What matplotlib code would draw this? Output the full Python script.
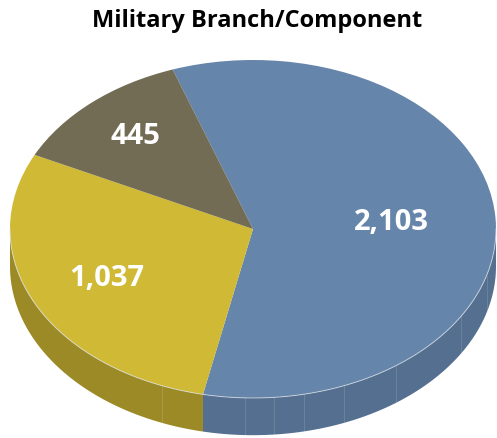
import numpy as np
import matplotlib
matplotlib.use("Agg")
import matplotlib.pyplot as plt

# data
branches = ["Blue", "Yellow", "Olive"]
counts = [2103, 1037, 445]
labels = ["2,103", "1,037", "445"]
top_colors = ["#6685AA", "#D0B935", "#736C55"]
side_colors = ["#546F8F", "#9C8A26", "#5A5442"]
label_radius = [0.57, 0.67, 0.73]

start_angle = 109.3
depth = 0.22

plt.rcParams['font.family'] = ['Open Sans', 'DejaVu Sans']

fig = plt.figure(figsize=(4.97, 4.38), dpi=100)
ax = fig.add_axes([0, 0, 1, 1])

# angle ranges of each wedge (clockwise from start)
fracs = np.array(counts) / np.sum(counts)
ends = start_angle - np.cumsum(fracs) * 360
starts = np.concatenate([[start_angle], ends[:-1]])

# side walls (only the front half shows)
for a1, a2, col in zip(ends, starts, side_colors):
    lo, hi = a1 % 360, a1 % 360 + (a2 - a1)
    for base in (0, 360, -360):
        s = max(lo, 180 + base)
        e = min(hi, 360 + base)
        if e <= s:
            continue
        t = np.radians(np.linspace(s, e, 100))
        xs = np.concatenate([np.cos(t), np.cos(t[::-1])])
        ys = np.concatenate([np.sin(t), np.sin(t[::-1]) - depth])
        ax.fill(xs, ys, color=col, lw=0, zorder=1)

# faint facet lines on the side
for ang in [248, 268, 275, 282, 292, 306, 329, 344]:
    r = np.radians(ang)
    ax.plot([np.cos(r)] * 2, [np.sin(r), np.sin(r) - depth],
            color="white", alpha=0.13, lw=0.8, zorder=2)

# top face
wedges, _ = ax.pie(counts, colors=top_colors, startangle=start_angle,
                   counterclock=False, radius=1,
                   wedgeprops=dict(linewidth=0, zorder=3))
for w in wedges:
    w.set_zorder(3)

# light rim on the front edge
t = np.radians(np.linspace(180, 360, 200))
ax.plot(np.cos(t), np.sin(t), color="#dfe4ea", lw=0.7, alpha=0.7, zorder=4)

# value labels
for a1, a2, lab, rr in zip(ends, starts, labels, label_radius):
    mid = np.radians((a1 + a2) / 2)
    ax.text(rr * np.cos(mid), rr * np.sin(mid), lab, ha="center", va="center",
            color="white", fontsize=21, fontweight="bold", zorder=5)

ax.set_aspect("auto")
ax.set_xlim(-253 / 243, 244 / 243)
ax.set_ylim(-209 / 169, 229 / 169)
ax.axis("off")

fig.text(0.517, 1 - 21 / 438, "Military Branch/Component", ha="center",
         va="center", fontsize=17, fontweight="bold")

fig.savefig("out.png", dpi=100)
